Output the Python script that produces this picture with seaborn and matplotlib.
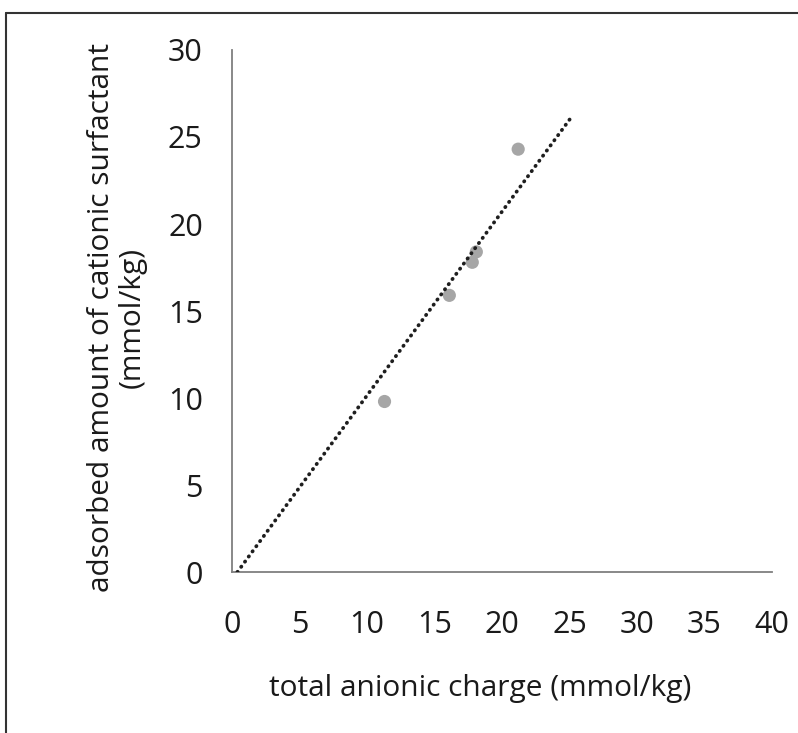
import numpy as np
import pandas as pd
import matplotlib
matplotlib.use("Agg")
import matplotlib.pyplot as plt
import seaborn as sns
from matplotlib.lines import Line2D

# data
anionic_charge = [11.3, 16.1, 17.8, 18.1, 21.2]
adsorbed = [9.8, 15.9, 17.8, 18.4, 24.3]
fit_x = [0.4, 25.1]
fit_y = [0.0, 26.1]
x_ticks = [0, 5, 10, 15, 20, 25, 30, 35, 40]
y_ticks = [0, 5, 10, 15, 20, 25, 30]

df = pd.DataFrame({"charge": anionic_charge, "adsorbed": adsorbed})

sns.set_style("white")
plt.rcParams["font.family"] = ["Open Sans", "DejaVu Sans"]

fig = plt.figure(figsize=(7.98, 7.33), dpi=100)
ax = fig.add_axes([0.2907, 0.2196, 0.6767, 0.7122])

# dotted trend line
ax.plot(fit_x, fit_y, linestyle=(0, (0.1, 1.6)), dash_capstyle="round",
        color="#1e1e1e", linewidth=2.7, zorder=3)
sns.scatterplot(data=df, x="charge", y="adsorbed", ax=ax, s=90,
                color="#a6a6a6", edgecolor="none", zorder=2)

ax.set_xlim(0, 40)
ax.set_ylim(0, 30)
ax.set_xticks(x_ticks)
ax.set_yticks(y_ticks)

for side in ["top", "right"]:
    ax.spines[side].set_visible(False)
for side in ["left", "bottom"]:
    ax.spines[side].set_color("#7f7f7f")
    ax.spines[side].set_linewidth(1.3)

ax.tick_params(axis="both", direction="out", length=10, width=1.3,
               color="#7f7f7f", labelsize=22, labelcolor="#1a1a1a")
ax.tick_params(axis="x", pad=17)
ax.tick_params(axis="y", pad=11)

ax.set_xlabel("total anionic charge (mmol/kg)", fontsize=21.5, color="#1a1a1a", labelpad=25)
ax.set_ylabel("adsorbed amount of cationic surfactant\n(mmol/kg)", fontsize=21.5,
              color="#1a1a1a", labelpad=15.5, linespacing=1.05)
ax.xaxis.label.set_x(0.459)
ax.yaxis.label.set_y(0.488)

# outer frame (top and left edges only)
fig.add_artist(Line2D([6 / 798, 1], [1 - 13 / 733, 1 - 13 / 733], color="#333333", lw=1.5))
fig.add_artist(Line2D([6 / 798, 6 / 798], [1 - 13 / 733, 0], color="#333333", lw=1.5))

fig.savefig("out.png", dpi=100)
